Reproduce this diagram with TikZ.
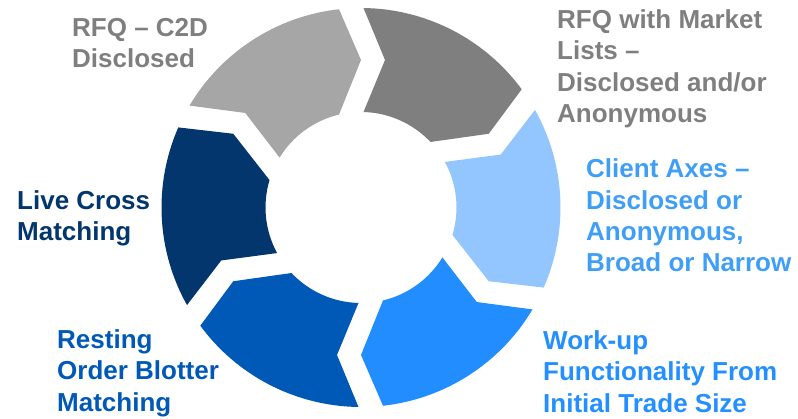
\documentclass[tikz,border=0pt]{standalone}
\usepackage{fontspec}
\setmainfont{Liberation Sans}
\usetikzlibrary{calc}

% segment fills
\definecolor{segLightGray}{HTML}{A6A6A6}
\definecolor{segGray}{HTML}{7F7F7F}
\definecolor{segSky}{HTML}{93C5FE}
\definecolor{segAzure}{HTML}{228DFF}
\definecolor{segBlue}{HTML}{0058B7}
\definecolor{segNavy}{HTML}{03366D}
% label colours
\definecolor{txtGray}{HTML}{7F7F7F}
\definecolor{txtSky}{HTML}{3F9EF6}
\definecolor{txtAzure}{HTML}{2490FF}
\definecolor{txtBlue}{HTML}{0058B7}
\definecolor{txtNavy}{HTML}{03366D}

% multi-line labels are placed by the baseline of their last line
\tikzset{
  label text/.style={anchor=base west, inner sep=0pt, align=left,
    font=\fontsize{26}{31.5}\selectfont\bfseries}
}

\begin{document}
\begin{tikzpicture}[x=1pt,y=1pt]
\useasboundingbox (0,0) rectangle (798,418);

% ring geometry: outer/inner radius, radius of tip and notch,
% offset of the notch side, notch depth, offset of the tip side
\def\Ro{199.5}
\def\Ri{95.5}
\def\Rm{147.5}
\def\so{2.5}
\def\gd{21.5}
\def\eo{22}
\coordinate (O) at (361,210.5);

% six chevron segments running clockwise, each from a notch at angle \a
% to a tip at angle \a-60
\foreach \a/\col in {90/segGray, 30/segSky, -30/segAzure,
                     -90/segBlue, -150/segNavy, 150/segLightGray}{
  \pgfmathsetmacro\b{\a-60}
  \pgfmathsetmacro\oa{\a-asin(\so/\Ro)}
  \pgfmathsetmacro\ob{\b+asin(\eo/\Ro)}
  \pgfmathsetmacro\ia{\a-asin(\so/\Ri)}
  \pgfmathsetmacro\ib{\b+asin(\eo/\Ri)}
  \pgfmathsetmacro\nd{\so+\gd}
  \fill[\col] ($(O)+(\oa:\Ro)$)
    arc[start angle=\oa, end angle=\ob, radius=\Ro]
    -- ($(O)+(\b:\Rm)$)
    -- ($(O)+(\ib:\Ri)$)
    arc[start angle=\ib, end angle=\ia, radius=\Ri]
    -- ($(O)+(\a:\Rm)+({\a-90}:\nd)$)
    -- cycle;
}

% labels
\node[label text, text=txtGray] (c2d) at (72,350) {RFQ – C2D\\Disclosed};
\node[label text, text=txtGray] (lists) at (557,295)
  {RFQ with Market\\Lists –\\Disclosed and/or\\Anonymous};
\node[label text, text=txtSky] (axes) at (586,146)
  {Client Axes –\\Disclosed or\\Anonymous,\\Broad or Narrow};
\node[label text, text=txtAzure] (workup) at (543,6)
  {Work-up\\Functionality From\\Initial Trade Size};
\node[label text, text=txtBlue] (resting) at (57,7)
  {Resting\\Order Blotter\\Matching};
\node[label text, text=txtNavy] (cross) at (17,177) {Live Cross\\Matching};
\end{tikzpicture}
\end{document}
